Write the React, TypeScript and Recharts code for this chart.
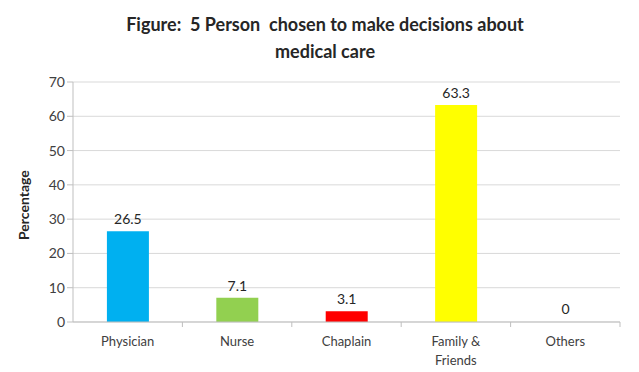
import React from "react";
import { BarChart, Bar, XAxis, YAxis, CartesianGrid, LabelList, Cell } from "recharts";

const categories = ["Physician", "Nurse", "Chaplain", "Family & Friends", "Others"];
const values = [26.5, 7.1, 3.1, 63.3, 0];
const colors = ["#00B0F0", "#92D050", "#FF0000", "#FFFF00", "transparent"];
const yTicks = [0, 10, 20, 30, 40, 50, 60, 70];
const titleLines = ["Figure:  5 Person  chosen to make decisions about", "medical care"];

const data = categories.map((c, i) => ({ name: c, value: values[i] }));

const FONT = "Lato, 'Open Sans', sans-serif";

const XTick = (props: any) => {
  const { x, y, payload, width, visibleTicksCount } = props;
  const band = width / visibleTicksCount;
  const words: string[] = payload.value === "Family & Friends" ? ["Family &", "Friends"] : [payload.value];
  return (
    <g>
      <line x1={x + band / 2} x2={x + band / 2} y1={y - 8} y2={y - 3} stroke="#BFBFBF" />
      <text x={x} y={y + 16} textAnchor="middle" fill="#404040" fontSize={13} fontFamily={FONT}>
        {words.map((w, i) => (
          <tspan key={i} x={x} dy={i === 0 ? 0 : 19}>{w}</tspan>
        ))}
      </text>
    </g>
  );
};

const ValueLabel = (props: any) => {
  const { x, y, width, height, value } = props;
  const top = Math.min(y, y + height);
  return (
    <text x={x + width / 2} y={top - 7} textAnchor="middle" fill="#262626" fontSize={14} fontFamily={FONT}>
      {value}
    </text>
  );
};

export default function App() {
  return (
    <div style={{ position: "absolute", left: 0, top: 0, width: 639, height: 372, background: "#fff" }}>
      <svg width={639} height={70} style={{ position: "absolute", left: 0, top: 0 }}>
        {titleLines.map((t, i) => (
          <text key={i} x={325} y={31 + i * 27} textAnchor="middle" fontFamily={FONT} fontWeight="bold" fontSize={18} fill="#262626" style={{ whiteSpace: "pre" }}>
            {t}
          </text>
        ))}
      </svg>
      <div style={{ position: "absolute", left: 0, top: 0 }}>
        <BarChart width={639} height={372} data={data} margin={{ top: 82, right: 19, bottom: 0, left: 20 }} barCategoryGap="31%">
          <CartesianGrid vertical={false} stroke="#D9D9D9" />
          <XAxis dataKey="name" interval={0} height={50} stroke="#BFBFBF" tickLine={false} tick={<XTick />} />
          <YAxis
            width={53}
            domain={[0, 70]}
            ticks={yTicks}
            interval={0}
            stroke="#BFBFBF"
            tickSize={6}
            tick={{ fill: "#404040", fontSize: 14, fontFamily: FONT }}
            label={{ value: "Percentage", angle: -90, position: "insideLeft", offset: 4, dy: 38, style: { fontFamily: FONT, fontWeight: "bold", fontSize: 14, fill: "#262626" } }}
          />
          <Bar dataKey="value" isAnimationActive={false} minPointSize={1}>
            {data.map((d, i) => (
              <Cell key={i} fill={colors[i]} />
            ))}
            <LabelList dataKey="value" content={<ValueLabel />} />
          </Bar>
        </BarChart>
      </div>
    </div>
  );
}
